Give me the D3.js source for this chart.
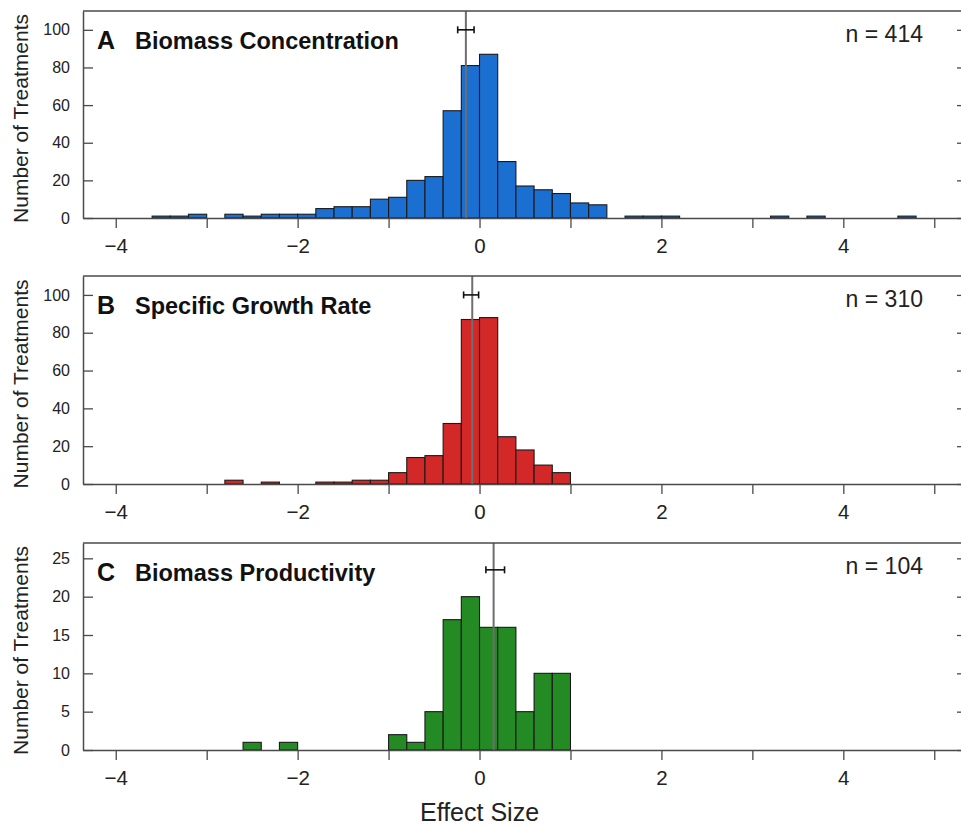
<!DOCTYPE html>
<html>
<head>
<meta charset="utf-8">
<script src="https://cdn.jsdelivr.net/npm/d3@7"></script>
<style>
  html, body { margin: 0; padding: 0; background: #fff; }
  svg { display: block; font-family: "Liberation Sans", Arial, Helvetica, sans-serif; }
</style>
</head>
<body>
<svg id="chart" width="961" height="827"></svg>
<script>
// ---- Data ----
const binWidth = 0.2;

const binStartsA = [-3.6,-3.4,-3.2,-2.8,-2.6,-2.4,-2.2,-2.0,-1.8,-1.6,-1.4,-1.2,-1.0,-0.8,-0.6,-0.4,-0.2,0,0.2,0.4,0.6,0.8,1.0,1.2,1.6,1.8,2.0,3.2,3.6,4.6];
const countsA    = [1,1,2,2,1,2,2,2,5,6,6,10,11,20,22,57,81,87,30,17,15,13,8,7,1,1,1,1,1,1];

const binStartsB = [-2.8,-2.4,-1.8,-1.6,-1.4,-1.2,-1.0,-0.8,-0.6,-0.4,-0.2,0,0.2,0.4,0.6,0.8];
const countsB    = [2,1,1,1,2,2,6,14,15,32,87,88,25,18,10,6];

const binStartsC = [-2.6,-2.2,-1.0,-0.8,-0.6,-0.4,-0.2,0,0.2,0.4,0.6,0.8];
const countsC    = [1,1,2,1,5,17,20,16,16,5,10,10];

const panelLetters = ["A", "B", "C"];
const panelTitles  = ["Biomass Concentration", "Specific Growth Rate", "Biomass Productivity"];
const panelN       = ["n = 414", "n = 310", "n = 104"];
const meanEffect   = [-0.15, -0.08, 0.155];
const ciLow        = [-0.24, -0.175, 0.07];
const ciHigh       = [-0.06, -0.01, 0.275];
const ciLevel      = [100, 100, 23.5];
const yMax         = [110, 110, 27];
const yTicksAB     = [0, 20, 40, 60, 80, 100];
const yTicksC      = [0, 5, 10, 15, 20, 25];
const xTicks       = [-4, -3, -2, -1, 0, 1, 2, 3, 4, 5];
const xTickLabels  = [-4, -2, 0, 2, 4];
const xDomain      = [-4.36, 5.36];
const barColors    = ["#1a6fd0", "#d22828", "#248a24"];

const xLabel = "Effect Size";
const yLabel = "Number of Treatments";

// ---- Layout ----
const svg = d3.select("#chart");
const left = 83, right = 967;
const panelsTop = [11, 276, 543];
const panelsBottom = [218, 484, 750];

const x = d3.scaleLinear().domain(xDomain).range([left, right]);

const datasets = [
  binStartsA.map((s, i) => ({ x0: s, count: countsA[i] })),
  binStartsB.map((s, i) => ({ x0: s, count: countsB[i] })),
  binStartsC.map((s, i) => ({ x0: s, count: countsC[i] }))
];
const yTickSets = [yTicksAB, yTicksAB, yTicksC];
const borderColor = "#4a4a4a";

datasets.forEach((data, p) => {
  const top = panelsTop[p], bottom = panelsBottom[p];
  const y = d3.scaleLinear().domain([0, yMax[p]]).range([bottom, top]);
  const g = svg.append("g");

  // bars
  g.selectAll("rect.bar").data(data).enter().append("rect")
    .attr("class", "bar")
    .attr("x", d => x(d.x0))
    .attr("width", d => x(d.x0 + binWidth) - x(d.x0))
    .attr("y", d => y(d.count))
    .attr("height", d => y(0) - y(d.count))
    .attr("fill", barColors[p])
    .attr("stroke", "#1a1a1a")
    .attr("stroke-width", 1.1);

  // mean line
  g.append("line")
    .attr("x1", x(meanEffect[p])).attr("x2", x(meanEffect[p]))
    .attr("y1", top).attr("y2", bottom)
    .attr("stroke", "#6e6e6e").attr("stroke-width", 2);

  // CI error bar
  const cy = y(ciLevel[p]);
  const eb = g.append("g").attr("stroke", "#111").attr("stroke-width", 1.6);
  eb.append("line").attr("x1", x(ciLow[p])).attr("x2", x(ciHigh[p])).attr("y1", cy).attr("y2", cy);
  eb.append("line").attr("x1", x(ciLow[p])).attr("x2", x(ciLow[p])).attr("y1", cy - 3.5).attr("y2", cy + 3.5);
  eb.append("line").attr("x1", x(ciHigh[p])).attr("x2", x(ciHigh[p])).attr("y1", cy - 3.5).attr("y2", cy + 3.5);

  // bottom axis
  const xAxis = d3.axisBottom(x)
    .tickValues(xTicks)
    .tickSize(10)
    .tickSizeOuter(0)
    .tickPadding(10.5)
    .tickFormat(d => xTickLabels.includes(d) ? d3.format("")(d).replace("-", "\u2212") : "");
  const gx = svg.append("g").attr("transform", `translate(0,${bottom})`).call(xAxis);
  gx.select(".domain").attr("stroke", borderColor).attr("stroke-width", 1.5);
  gx.selectAll(".tick line").attr("stroke", borderColor).attr("stroke-width", 1.3);
  gx.selectAll(".tick text").attr("font-size", 20.5).attr("fill", "#222")
    .attr("font-family", "'Liberation Sans', Arial, sans-serif");

  // left axis (ticks inward)
  const yAxis = d3.axisLeft(y).tickValues(yTickSets[p]).tickSize(-10).tickSizeOuter(0).tickPadding(13);
  const gy = svg.append("g").attr("transform", `translate(${left},0)`).call(yAxis);
  gy.select(".domain").attr("stroke", borderColor).attr("stroke-width", 1.5);
  gy.selectAll(".tick line").attr("stroke", borderColor).attr("stroke-width", 1.3);
  gy.selectAll(".tick text").attr("font-size", 16).attr("fill", "#222")
    .attr("font-family", "'Liberation Sans', Arial, sans-serif");

  // right axis (ticks inward, axis line just beyond the view)
  const yAxisR = d3.axisRight(y).tickValues(yTickSets[p]).tickSize(-10).tickSizeOuter(0).tickFormat("");
  const gr = svg.append("g").attr("transform", `translate(${right},0)`).call(yAxisR);
  gr.select(".domain").attr("stroke", borderColor).attr("stroke-width", 1.5);
  gr.selectAll(".tick line").attr("stroke", borderColor).attr("stroke-width", 1.3);

  // top border
  svg.append("line").attr("x1", left).attr("x2", right).attr("y1", top).attr("y2", top)
    .attr("stroke", borderColor).attr("stroke-width", 1.5);

  // panel letter and title
  svg.append("text").attr("x", 97).attr("y", top + 38)
    .attr("font-size", 25).attr("font-weight", "bold").attr("fill", "#111")
    .text(panelLetters[p]);
  svg.append("text").attr("x", 135).attr("y", top + 38)
    .attr("font-size", 23.5).attr("font-weight", "bold").attr("fill", "#111")
    .text(panelTitles[p]);

  // n label
  svg.append("text").attr("x", 923).attr("y", top + 31)
    .attr("text-anchor", "end").attr("font-size", 23).attr("fill", "#222")
    .text(panelN[p]);

  // y-axis label
  const cyLab = (top + bottom) / 2 + 4;
  svg.append("text")
    .attr("transform", `translate(28,${cyLab}) rotate(-90)`)
    .attr("text-anchor", "middle").attr("font-size", 21).attr("fill", "#222")
    .text(yLabel);
});

// x-axis label
svg.append("text").attr("x", x(0)).attr("y", 821)
  .attr("text-anchor", "middle").attr("font-size", 25).attr("fill", "#222")
  .text(xLabel);
</script>
</body>
</html>
